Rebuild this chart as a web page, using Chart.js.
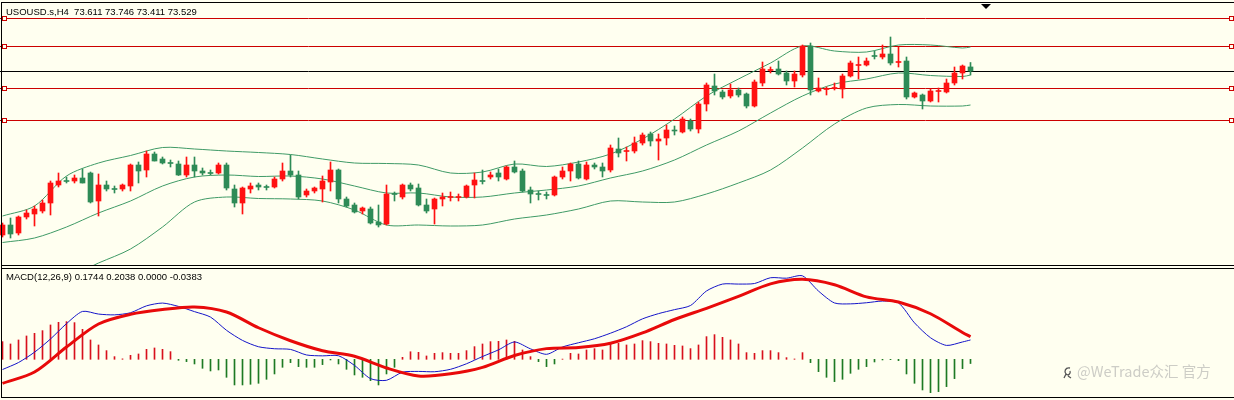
<!DOCTYPE html>
<html>
<head>
<meta charset="utf-8">
<script src="https://cdn.jsdelivr.net/npm/chart.js@4.4.1/dist/chart.umd.min.js"></script>
<style>
  html, body { margin: 0; padding: 0; background: #fffff0; }
  #wrap { position: relative; width: 1234px; height: 400px; background: #fffff0; overflow: hidden; }
  canvas { position: absolute; left: 0; }
  #priceCanvas { top: 0; }
  #macdCanvas { top: 268px; }
  .rule { position: absolute; background: #000; z-index: 2; }
  .label { position: absolute; z-index: 3; font-family: "Liberation Sans", Arial, sans-serif; font-size: 9.5px; line-height: 12px; color: #000; white-space: pre; }
  #shiftMark { position: absolute; z-index: 3; left: 981px; top: 4px; width: 0; height: 0;
    border-left: 5px solid transparent; border-right: 5px solid transparent; border-top: 5px solid #000; }
  #watermark { position: absolute; z-index: 3; left: 1077px; top: 360px; font-family: "Noto Sans CJK SC", sans-serif;
    font-size: 14.5px; color: #cdcdc6; white-space: pre; }
  #wmIcon { position: absolute; z-index: 3; left: 1062px; top: 366px; }
</style>
</head>
<body>
<div id="wrap">
  <canvas id="priceCanvas" width="1234" height="266"></canvas>
  <canvas id="macdCanvas" width="1234" height="130"></canvas>
  <div class="rule" style="left:1px; top:2px; width:1233px; height:1px;"></div>
  <div class="rule" style="left:1px; top:2px; width:1px; height:396px;"></div>
  <div class="rule" style="left:1px; top:265px; width:1233px; height:1px;"></div>
  <div class="rule" style="left:1px; top:268px; width:1233px; height:1px;"></div>
  <div class="rule" style="left:1px; top:397px; width:1233px; height:1px;"></div>
  <div id="shiftMark"></div>
  <div class="label" style="left:6px; top:6px;">USOUSD.s,H4  73.611 73.746 73.411 73.529</div>
  <div class="label" style="left:6px; top:271px;">MACD(12,26,9) 0.1744 0.2038 0.0000 -0.0383</div>
  <svg id="wmIcon" width="12" height="14" viewBox="0 0 12 14">
    <path d="M8 2 C3 1 2 6 4 8 C6 10 9 8 8 5 M4 8 L2 12 M6 10 L9 12" fill="none" stroke="#555" stroke-width="1.3"/>
  </svg>
  <div id="watermark">@WeTrade众汇 官方</div>
</div>

<script>
// H4 candles, oldest first
const candleOpen = [
  70.25, 70.45, 70.29, 70.61, 70.67, 70.73, 70.89, 71.25, 71.34, 71.33,
  71.39, 71.49, 70.93, 71.25, 71.18, 71.17, 71.23, 71.65, 71.55, 71.87,
  71.77, 71.70, 71.67, 71.45, 71.65, 71.53, 71.50, 71.49, 71.65, 71.17,
  70.89, 71.17, 71.25, 71.22, 71.21, 71.37, 71.53, 71.45, 71.05, 71.13,
  71.17, 71.31, 71.55, 70.97, 70.85, 70.73, 70.77, 70.51, 70.47, 71.08,
  71.01, 71.25, 71.19, 70.85, 70.77, 70.97, 71.00, 71.00, 71.01, 71.25,
  71.34, 71.41, 71.49, 71.37, 71.61, 71.53, 71.15, 71.08, 71.06, 71.05,
  71.41, 71.53, 71.67, 71.37, 71.65, 71.61, 71.55, 71.97, 71.92, 71.93,
  72.09, 72.27, 72.13, 72.19, 72.35, 72.31, 72.53, 72.37, 72.87, 73.23,
  73.11, 73.03, 73.15, 73.07, 72.83, 73.29, 73.54, 73.57, 73.49, 73.33,
  73.45, 74.03, 73.13, 73.16, 73.18, 73.17, 73.43, 73.64, 73.65, 73.84,
  73.81, 73.87, 73.70, 73.73, 73.01, 73.05, 72.93, 73.12, 73.11, 73.29,
  73.49, 73.611
];
const candleHigh = [
  70.49, 70.59, 70.63, 70.75, 70.83, 70.95, 71.33, 71.49, 71.41, 71.45,
  71.57, 71.51, 71.47, 71.33, 71.23, 71.27, 71.67, 71.71, 71.93, 71.91,
  71.81, 71.75, 71.73, 71.81, 71.81, 71.59, 71.55, 71.69, 71.69, 71.25,
  71.21, 71.29, 71.29, 71.25, 71.41, 71.69, 71.85, 71.53, 71.17, 71.21,
  71.43, 71.71, 71.57, 71.01, 70.89, 70.81, 70.81, 70.85, 71.25, 71.11,
  71.27, 71.29, 71.27, 70.97, 70.99, 71.09, 71.11, 71.07, 71.25, 71.49,
  71.55, 71.51, 71.57, 71.63, 71.73, 71.57, 71.21, 71.13, 71.11, 71.43,
  71.61, 71.69, 71.73, 71.71, 71.69, 71.69, 72.05, 72.19, 72.01, 72.21,
  72.29, 72.31, 72.27, 72.45, 72.43, 72.61, 72.57, 72.91, 73.29, 73.47,
  73.15, 73.27, 73.19, 73.09, 73.35, 73.71, 73.61, 73.73, 73.53, 73.53,
  74.05, 74.09, 73.39, 73.21, 73.29, 73.47, 73.73, 73.81, 73.79, 73.93,
  74.05, 74.21, 74.01, 73.81, 73.11, 73.07, 73.17, 73.19, 73.37, 73.61,
  73.65, 73.70
];
const candleLow = [
  70.21, 70.19, 70.25, 70.57, 70.43, 70.69, 70.65, 71.21, 71.29, 71.29,
  71.29, 70.89, 70.63, 71.13, 71.09, 71.13, 71.13, 71.29, 71.41, 71.73,
  71.67, 71.61, 71.44, 71.41, 71.41, 71.45, 71.45, 71.47, 71.15, 70.81,
  70.67, 71.09, 71.15, 71.15, 71.19, 71.33, 71.41, 70.97, 71.01, 71.09,
  70.91, 71.13, 70.89, 70.81, 70.69, 70.67, 70.47, 70.41, 70.45, 70.93,
  70.97, 71.13, 70.83, 70.69, 70.47, 70.83, 70.93, 70.93, 70.99, 70.99,
  71.27, 71.37, 71.33, 71.35, 71.49, 71.11, 70.89, 70.95, 70.97, 71.03,
  71.37, 71.33, 71.37, 71.35, 71.57, 71.41, 71.51, 71.81, 71.73, 71.89,
  72.05, 72.03, 71.75, 72.05, 72.25, 72.29, 72.33, 72.29, 72.73, 73.05,
  72.97, 72.99, 73.01, 72.79, 72.81, 73.23, 73.49, 73.45, 73.25, 73.21,
  73.41, 73.05, 73.11, 73.05, 73.15, 72.99, 73.41, 73.37, 73.63, 73.77,
  73.77, 73.65, 73.61, 72.97, 72.99, 72.77, 72.91, 72.91, 73.09, 73.25,
  73.37, 73.45
];
const candleClose = [
  70.45, 70.27, 70.61, 70.69, 70.77, 70.89, 71.29, 71.33, 71.32, 71.39,
  71.29, 70.91, 71.25, 71.17, 71.16, 71.25, 71.65, 71.53, 71.87, 71.73,
  71.69, 71.68, 71.45, 71.65, 71.53, 71.49, 71.48, 71.65, 71.19, 70.89,
  71.19, 71.23, 71.21, 71.20, 71.37, 71.53, 71.45, 71.01, 71.13, 71.19,
  71.33, 71.55, 70.97, 70.83, 70.71, 70.79, 70.49, 70.45, 71.07, 71.06,
  71.25, 71.17, 70.85, 70.73, 70.97, 71.01, 71.02, 71.02, 71.23, 71.35,
  71.32, 71.45, 71.41, 71.61, 71.51, 71.13, 71.07, 71.06, 71.04, 71.41,
  71.53, 71.67, 71.39, 71.65, 71.61, 71.53, 71.99, 71.89, 71.94, 72.09,
  72.25, 72.13, 72.17, 72.35, 72.33, 72.57, 72.37, 72.87, 73.25, 73.13,
  73.01, 73.15, 73.05, 72.83, 73.31, 73.57, 73.56, 73.47, 73.33, 73.47,
  74.03, 73.15, 73.19, 73.18, 73.20, 73.43, 73.69, 73.66, 73.73, 73.82,
  73.87, 73.69, 73.72, 73.01, 73.09, 72.93, 73.13, 73.14, 73.29, 73.49,
  73.63, 73.529
];

// Bollinger bands, read every 4th bar
const bandIdx = [0, 4, 8, 12, 16, 20, 24, 28, 32, 36, 40, 44, 48, 52, 56, 60,
  64, 68, 72, 76, 80, 84, 88, 92, 96, 100, 104, 108, 112, 116, 120, 121];
const bandUpper = [70.63, 70.83, 71.43, 71.69, 71.84, 72.00, 71.97, 71.93, 71.90, 71.86, 71.77, 71.69, 71.68, 71.65, 71.49, 71.51,
  71.67, 71.62, 71.71, 71.87, 72.17, 72.57, 73.03, 73.37, 73.69, 74.03, 73.93, 73.91, 74.05, 74.05, 73.99, 74.01];
const bandMiddle = [70.10, 70.19, 70.41, 70.69, 70.93, 71.23, 71.41, 71.45, 71.42, 71.43, 71.37, 71.23, 71.09, 71.09, 71.01, 71.01,
  71.09, 71.15, 71.23, 71.39, 71.53, 71.75, 72.05, 72.33, 72.69, 73.03, 73.27, 73.37, 73.49, 73.44, 73.42, 73.45];
const bandLower = [69.53, 69.51, 69.41, 69.69, 69.97, 70.41, 70.91, 71.01, 70.98, 70.97, 70.93, 70.75, 70.45, 70.45, 70.43, 70.45,
  70.57, 70.65, 70.77, 70.93, 70.91, 70.91, 71.07, 71.29, 71.55, 71.99, 72.47, 72.79, 72.86, 72.83, 72.83, 72.85];

// horizontal levels drawn on the chart
const levelPrices = [74.59, 74.03, 73.19, 72.55];

// MACD(12,26,9)
const macdHist = [
  0.159, 0.138, 0.174, 0.210, 0.234, 0.258, 0.309, 0.333, 0.339, 0.330,
  0.270, 0.174, 0.129, 0.078, 0.024, 0.004, 0.036, 0.048, 0.090, 0.102,
  0.090, 0.069, -0.009, -0.021, -0.042, -0.081, -0.105, -0.096, -0.162, -0.231,
  -0.231, -0.225, -0.216, -0.180, -0.132, -0.072, -0.030, -0.066, -0.072, -0.072,
  -0.048, -0.006, -0.042, -0.090, -0.141, -0.162, -0.192, -0.231, -0.132, -0.072,
  0.018, 0.068, 0.063, 0.030, 0.054, 0.060, 0.054, 0.054, 0.078, 0.114,
  0.138, 0.159, 0.162, 0.174, 0.162, 0.084, 0.024, -0.021, -0.066, -0.042,
  0.002, 0.054, 0.048, 0.084, 0.096, 0.084, 0.138, 0.144, 0.129, 0.138,
  0.168, 0.159, 0.144, 0.138, 0.126, 0.120, 0.096, 0.129, 0.204, 0.222,
  0.198, 0.174, 0.138, 0.060, 0.054, 0.078, 0.078, 0.060, 0.015, 0.003,
  0.060, -0.030, -0.111, -0.162, -0.201, -0.180, -0.126, -0.090, -0.066, -0.024,
  -0.006, -0.003, -0.012, -0.132, -0.216, -0.276, -0.300, -0.291, -0.246, -0.174,
  -0.084, -0.038
];
const difIdx = [0, 2, 4, 6, 8, 10, 12, 14, 16, 18, 20, 22, 24, 26, 28, 30, 32, 34, 36, 38,
  40, 42, 44, 46, 48, 50, 52, 54, 56, 58, 60, 62, 64, 66, 68, 70, 72, 74, 76, 78,
  80, 82, 84, 86, 88, 90, 92, 94, 96, 98, 100, 102, 104, 106, 108, 110, 112, 114, 116, 118,
  120, 121];
const difValues = [
  -0.092, -0.029, 0.064, 0.183, 0.321, 0.431, 0.407, 0.400, 0.419, 0.481,
  0.506, 0.476, 0.429, 0.380, 0.261, 0.170, 0.113, 0.095, 0.089, 0.039,
  0.031, 0.032, -0.055, -0.174, -0.189, -0.116, -0.109, -0.112, -0.090, -0.040,
  0.025, 0.085, 0.156, 0.094, 0.045, 0.111, 0.149, 0.185, 0.235, 0.293,
  0.364, 0.411, 0.447, 0.484, 0.615, 0.677, 0.677, 0.682, 0.734, 0.730,
  0.751, 0.614, 0.507, 0.499, 0.509, 0.524, 0.507, 0.328, 0.194, 0.125,
  0.156, 0.174
];
const deaIdx = bandIdx;
const deaValues = [
  -0.216, -0.114, 0.111, 0.318, 0.405, 0.448, 0.471, 0.426, 0.284, 0.167,
  0.077, 0.027, -0.078, -0.150, -0.131, -0.073, 0.034, 0.096, 0.106, 0.144,
  0.237, 0.358, 0.459, 0.566, 0.679, 0.720, 0.671, 0.562, 0.516, 0.410,
  0.241, 0.203
];

const upColor = '#ff1111';
const downColor = '#2e8b57';
const bandColor = '#3f9a66';
const levelColor = '#cc0000';

// 8 px per bar, bar 0 centred at x = 2.5
const xMin = -0.3125;
const xMax = 153.9375;

const barIdx = candleOpen.map((_, i) => i);
const candleColor = c => {
  if (c.type !== 'data') return upColor;
  return candleClose[c.dataIndex] >= candleOpen[c.dataIndex] ? upColor : downColor;
};

const levelLines = {
  id: 'levelLines',
  beforeDatasetsDraw(chart) {
    const { ctx, chartArea, scales: { y } } = chart;
    ctx.save();
    ctx.lineWidth = 1;
    levelPrices.forEach(p => {
      const py = Math.round(y.getPixelForValue(p)) + 0.5;
      ctx.strokeStyle = levelColor;
      ctx.beginPath();
      ctx.moveTo(chartArea.left, py);
      ctx.lineTo(chartArea.right, py);
      ctx.stroke();
      // little handles at both ends, like the terminal draws them
      ctx.fillStyle = '#fffff0';
      [2.5, chartArea.right - 4.5].forEach(hx => {
        ctx.fillRect(hx, py - 2, 4, 4);
        ctx.strokeRect(hx, py - 2, 4, 4);
      });
    });
    // last price line
    const cy = Math.round(y.getPixelForValue(candleClose[candleClose.length - 1])) + 0.5;
    ctx.strokeStyle = '#000';
    ctx.beginPath();
    ctx.moveTo(chartArea.left, cy);
    ctx.lineTo(chartArea.right, cy);
    ctx.stroke();
    ctx.restore();
  }
};

const bandSet = (vals) => ({
  type: 'line',
  data: bandIdx.map((x, i) => ({ x, y: vals[i] })),
  borderColor: bandColor,
  borderWidth: 1,
  pointRadius: 0,
  tension: 0.3,
  order: 3
});

new Chart(document.getElementById('priceCanvas'), {
  type: 'bar',
  data: {
    datasets: [
      bandSet(bandUpper),
      bandSet(bandMiddle),
      bandSet(bandLower),
      {
        data: barIdx.map(i => ({ x: i, y: [candleLow[i], candleHigh[i]] })),
        backgroundColor: candleColor,
        barThickness: 1,
        maxBarThickness: 1,
        grouped: false,
        order: 2
      },
      {
        data: barIdx.map(i => ({ x: i, y: [candleOpen[i], candleClose[i]] })),
        backgroundColor: candleColor,
        barThickness: 5,
        maxBarThickness: 5,
        minBarLength: 1,
        grouped: false,
        order: 1
      }
    ]
  },
  options: {
    responsive: false,
    animation: false,
    events: [],
    layout: { padding: 0 },
    plugins: { legend: { display: false }, tooltip: { enabled: false } },
    scales: {
      x: { type: 'linear', min: xMin, max: xMax, offset: false, display: false },
      y: { min: 69.63, max: 74.95, display: false }
    }
  },
  plugins: [levelLines]
});

new Chart(document.getElementById('macdCanvas'), {
  type: 'bar',
  data: {
    datasets: [
      {
        data: barIdx.map(i => ({ x: i, y: macdHist[i] })),
        backgroundColor: c => (c.type === 'data' && macdHist[c.dataIndex] < 0) ? '#1e7a24' : '#d8101c',
        barThickness: 1,
        maxBarThickness: 1,
        grouped: false,
        order: 3
      },
      {
        type: 'line',
        data: difIdx.map((x, i) => ({ x, y: difValues[i] })),
        borderColor: '#1414c8',
        borderWidth: 1,
        pointRadius: 0,
        tension: 0.25,
        order: 2
      },
      {
        type: 'line',
        data: deaIdx.map((x, i) => ({ x, y: deaValues[i] })),
        borderColor: '#e80a0a',
        borderWidth: 3,
        pointRadius: 0,
        tension: 0.3,
        order: 1
      }
    ]
  },
  options: {
    responsive: false,
    animation: false,
    events: [],
    layout: { padding: 0 },
    plugins: { legend: { display: false }, tooltip: { enabled: false } },
    scales: {
      x: { type: 'linear', min: xMin, max: xMax, offset: false, display: false },
      y: { min: -0.3483, max: 0.8217, display: false }
    }
  }
});
</script>
</body>
</html>
